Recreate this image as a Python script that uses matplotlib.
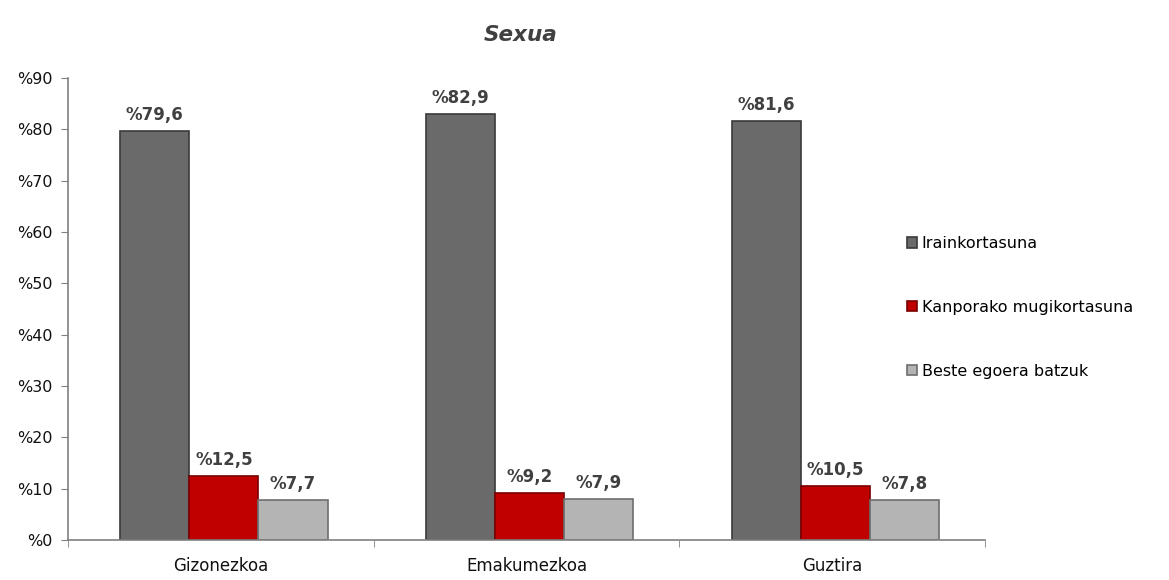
import numpy as np
import matplotlib.pyplot as plt

categories = ['Gizonezkoa', 'Emakumezkoa', 'Guztira']
series = ['Irainkortasuna', 'Kanporako mugikortasuna', 'Beste egoera batzuk']
irainkortasuna = [79.6, 82.9, 81.6]
kanporako = [12.5, 9.2, 10.5]
beste = [7.7, 7.9, 7.8]
yticks = list(range(0, 100, 10))

colors = ['#6a6a6a', '#c00000', '#b4b4b4']
edges = ['#3a3a3a', '#7a0000', '#6e6e6e']

fig = plt.figure(figsize=(11.69, 5.8), dpi=100)
ax = fig.add_axes([0.0582, 0.069, 0.7844, 0.7966])

x = np.arange(len(categories))
w = 0.226
for i, (vals, c, e, lab) in enumerate(zip([irainkortasuna, kanporako, beste], colors, edges, series)):
    pos = x + (i - 1) * w + 0.01
    bars = ax.bar(pos, vals, w, color=c, edgecolor=e, linewidth=1.2, label=lab, zorder=2)
    for b, v in zip(bars, vals):
        ax.text(b.get_x() + b.get_width() / 2, v + 1.4, '%' + ('%.1f' % v).replace('.', ','),
                ha='center', va='bottom', fontsize=12, fontweight='bold', color='#404040')

ax.set_xlim(-0.5, 2.5)
ax.set_ylim(0, 90)
ax.set_yticks(yticks)
ax.set_yticklabels(['%' + str(t) for t in yticks], fontsize=11.5, color='#111111')
ax.set_xticks(x)
ax.set_xticklabels(categories, fontsize=12, color='#111111')
ax.set_xticks([-0.5, 0.5, 1.5, 2.5], minor=True)
ax.tick_params(axis='x', which='major', length=0, pad=12)
ax.tick_params(axis='x', which='minor', length=5, color='#808080', direction='out')
ax.tick_params(axis='y', length=5, color='#808080', pad=6)
for s in ['top', 'right']:
    ax.spines[s].set_visible(False)
for s in ['left', 'bottom']:
    ax.spines[s].set_color('#808080')
    ax.spines[s].set_linewidth(1.2)

fig.text(0.445, 0.94, 'Sexua', ha='center', va='center', fontsize=15.5,
         fontweight='bold', fontstyle='italic', color='#404040')

fig.legend(loc='center left', bbox_to_anchor=(0.764, 0.47), frameon=False,
           fontsize=11.5, handlelength=0.6, handleheight=0.6, handletextpad=0.3,
           labelspacing=3.05)

fig.savefig('out.png', dpi=100)
